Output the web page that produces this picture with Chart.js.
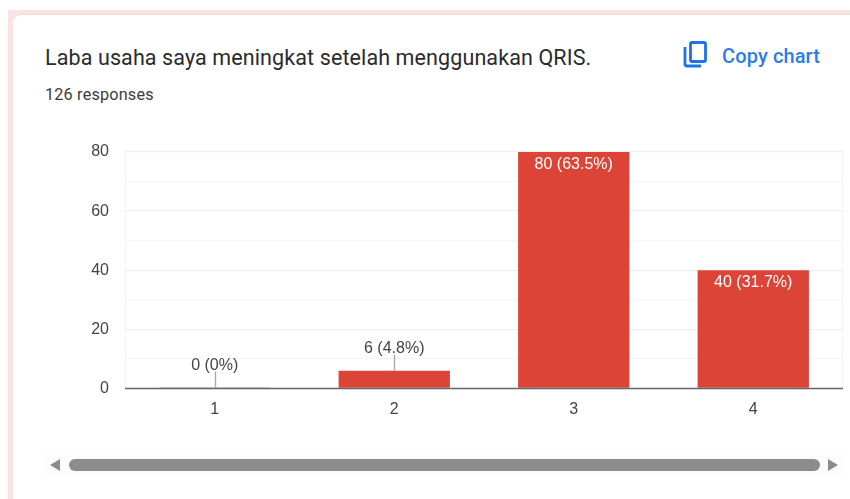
<!DOCTYPE html>
<html><head><meta charset="utf-8">
<style>
html,body{margin:0;padding:0;background:#fff;width:850px;height:499px;overflow:hidden;font-family:Roboto,sans-serif}
#bg{position:absolute;left:8px;top:10px;width:842px;height:489px;background:#fae3e1}
#card{position:absolute;left:13px;top:15px;width:837px;height:484px;background:#fff;border-top-left-radius:8px;box-shadow:0 -1px 0 #e6dcdb}
.t{position:absolute;white-space:nowrap}
#title{left:45px;top:44px;font-size:21.5px;line-height:28px;color:#2a2b2e;letter-spacing:.11px}
#sub{left:45px;top:85px;font-size:16.2px;line-height:20px;color:#3a3b3e;letter-spacing:.2px}
#copy{left:722px;top:43px;font-size:20px;line-height:26px;color:#2a7de9;font-family:Roboto;font-weight:500;letter-spacing:.12px}
#icon{position:absolute;left:681px;top:39px}
#c{position:absolute;left:0;top:0}
#track{position:absolute;left:45px;top:455px;width:798px;height:20px;background:#fcfcfc}
#thumb{position:absolute;left:24px;top:4px;width:751px;height:12px;border-radius:6px;background:#8c8c8c}
.arrow{position:absolute;top:4px;width:0;height:0;border-top:6px solid transparent;border-bottom:6px solid transparent}
#la{left:5px;border-right:10px solid #8c8c8c}
#ra{left:783px;border-left:10px solid #8c8c8c}
</style></head><body>
<div id="bg"></div><div id="card"></div>
<div class="t" id="title">Laba usaha saya meningkat setelah menggunakan QRIS.</div>
<div class="t" id="sub">126 responses</div>
<svg id="icon" width="28" height="30" viewBox="0 0 28 30" fill="none" stroke="#1a73e8" stroke-width="2.8">
<rect x="9.5" y="3.5" width="15" height="19" rx="1.5"/><path d="M4 8v17a2 2 0 0 0 2 2h14"/></svg>
<div class="t" id="copy">Copy chart</div>
<div id="track"><div class="arrow" id="la"></div><div id="thumb"></div><div class="arrow" id="ra"></div></div>
<canvas id="c" width="850" height="499"></canvas>
<script src="https://cdn.jsdelivr.net/npm/chart.js@4"></script>
<script>
const categories = ["1","2","3","4"];
const responses = [0,6,80,40];
const valueLabels = ["0 (0%)","6 (4.8%)","80 (63.5%)","40 (31.7%)"];
const yTickLabels = [0,20,40,60,80];

const barLabels = {
  id:'barLabels',
  beforeDatasetsDraw(chart){
    const a = chart.chartArea, ctx = chart.ctx;
    ctx.save();ctx.strokeStyle='#f3f3f3';ctx.lineWidth=1;
    ctx.beginPath();
    ctx.moveTo(Math.round(a.left)+.5,a.top);ctx.lineTo(Math.round(a.left)+.5,a.bottom);
    ctx.moveTo(Math.round(a.right)-.5,a.top);ctx.lineTo(Math.round(a.right)-.5,a.bottom);
    ctx.stroke();ctx.restore();
  },
  afterDatasetsDraw(chart){
    const ctx = chart.ctx, meta = chart.getDatasetMeta(0);
    ctx.save();
    ctx.textAlign='center';
    ctx.font='16px "Liberation Sans"';
    meta.data.forEach((bar,i)=>{
      const v = responses[i];
      if(v < 20){
        ctx.strokeStyle='#aaa';ctx.lineWidth=1.4;
        ctx.beginPath();ctx.moveTo(Math.round(bar.x)+.5,bar.y);ctx.lineTo(Math.round(bar.x)+.5,bar.y-16);ctx.stroke();
        ctx.fillStyle='#444';ctx.textBaseline='alphabetic';
        ctx.fillText(valueLabels[i],bar.x,bar.y-17.5);
      }else{
        ctx.fillStyle='#fff';ctx.textBaseline='alphabetic';
        ctx.fillText(valueLabels[i],bar.x,bar.y+16.5);
      }
    });
    const xs = chart.scales.x, y0 = chart.scales.y.getPixelForValue(0);
    ctx.strokeStyle='#666';ctx.lineWidth=1.3;
    ctx.beginPath();ctx.moveTo(xs.left,Math.floor(y0)+.5);ctx.lineTo(xs.right,Math.floor(y0)+.5);ctx.stroke();
    ctx.restore();
  }
};

new Chart(document.getElementById('c'),{
  type:'bar',
  data:{labels:categories,datasets:[{data:responses,backgroundColor:'#dc4437',borderWidth:0,minBarLength:1,
    barPercentage:0.62,categoryPercentage:1}]},
  plugins:[barLabels],
  options:{
    responsive:false,animation:false,
    layout:{padding:{left:0,top:152,right:7,bottom:0}},
    plugins:{legend:{display:false},tooltip:{enabled:false},title:{display:false}},
    scales:{
      x:{grid:{display:false},border:{display:false},
        afterFit(s){s.height=110.5;},
        ticks:{color:'#444',font:{family:'"Liberation Sans"',size:16},padding:3,maxRotation:0}},
      y:{min:0,max:80,
        afterFit(s){s.width=125;},
        border:{display:false},
        grid:{drawTicks:false,lineWidth:1.3,color:c=>yTickLabels.includes(c.tick.value)?'#eeeeee':'#f6f6f6'},
        afterBuildTicks(s){s.ticks=[];for(let v=0;v<=80;v+=10)s.ticks.push({value:v});},
        ticks:{color:'#444',font:{family:'"Liberation Sans"',size:16},padding:16,
          callback:v=>yTickLabels.includes(v)?String(v):''}}
    }
  }
});
</script>
</body></html>
